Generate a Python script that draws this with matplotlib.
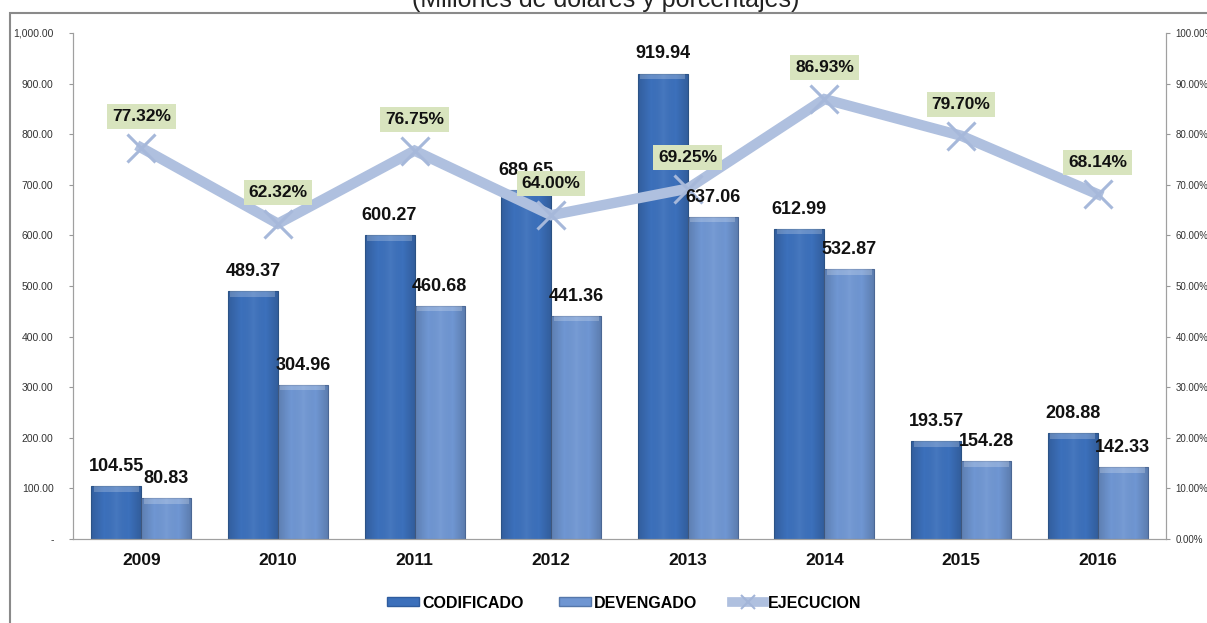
import matplotlib
matplotlib.use("Agg")
import matplotlib.pyplot as plt
import numpy as np
from matplotlib.patches import Rectangle
from matplotlib.lines import Line2D
from matplotlib.colors import LinearSegmentedColormap

years = ["2009", "2010", "2011", "2012", "2013", "2014", "2015", "2016"]
codificado = [104.55, 489.37, 600.27, 689.65, 919.94, 612.99, 193.57, 208.88]
devengado = [80.83, 304.96, 460.68, 441.36, 637.06, 532.87, 154.28, 142.33]
ejecucion = [77.32, 62.32, 76.75, 64.00, 69.25, 86.93, 79.70, 68.14]

left_ticks = [0, 100, 200, 300, 400, 500, 600, 700, 800, 900, 1000]
left_labels = ["-", "100.00", "200.00", "300.00", "400.00", "500.00",
               "600.00", "700.00", "800.00", "900.00", "1,000.00"]
right_ticks = [0, 10, 20, 30, 40, 50, 60, 70, 80, 90, 100]
right_labels = [f"{v:.2f}%" for v in right_ticks]

plt.rcParams["font.family"] = ["Liberation Sans Narrow", "Liberation Sans", "DejaVu Sans"]

fig = plt.figure(figsize=(12.07, 6.23), dpi=100)
W, H = 1207, 623

# outer frame and subtitle
fig.patches.append(Rectangle((10 / W, -0.1), 1.2, 1 - 13 / H + 0.1,
                             transform=fig.transFigure, fill=False,
                             edgecolor="#8a8a8a", linewidth=1.5))
fig.text(606 / W, 1 - 7 / H, "(Millones de dólares y porcentajes)",
         ha="center", va="baseline", fontsize=18, color="#222222",
         family=["Liberation Sans", "DejaVu Sans"])

ax = fig.add_axes([73 / W, 1 - 539 / H, (1166 - 73) / W, (539 - 33) / H])
ax2 = ax.twinx()

x = np.arange(len(years))
bw = 0.366
c1 = "#3C70BB"
c2 = "#6F96D2"
b1 = ax.bar(x - bw / 2, codificado, bw, color=c1, edgecolor="#34629F", linewidth=0.8, zorder=2)
b2 = ax.bar(x + bw / 2, devengado, bw, color=c2, edgecolor="#5B7DB3", linewidth=0.8, zorder=2)

# soft bevel shading across each bar
shade = LinearSegmentedColormap.from_list(
    "shade", [(0, 0, 0, 0.16), (0, 0, 0, 0.0), (1, 1, 1, 0.06), (0, 0, 0, 0.0), (0, 0, 0, 0.18)])
grad = np.linspace(0, 1, 64).reshape(1, -1)
for bars in (b1, b2):
    for r in bars:
        x0, w, h = r.get_x(), r.get_width(), r.get_height()
        im = ax.imshow(grad, cmap=shade, extent=(x0, x0 + w, 0, h), aspect="auto",
                       zorder=2.1, interpolation="bicubic")
        im.set_clip_path(r)
        top = Rectangle((x0 + w * 0.05, h - 11), w * 0.90, 11, facecolor="white",
                        alpha=0.22, edgecolor="none", zorder=2.2)
        ax.add_patch(top)

ax.set_xlim(-0.5, len(years) - 0.5)
ax.set_ylim(0, 1000)
ax.set_yticks(left_ticks)
ax.set_yticklabels(left_labels, fontsize=7.5, color="#333333")
ax.set_xticks(x)
ax.set_xticklabels(years, fontsize=12.5, fontweight="bold", color="#111111")
ax.tick_params(axis="x", length=0, pad=10)
ax.tick_params(axis="y", length=3, color="#999999", pad=11)

ax2.set_ylim(0, 100)
ax2.set_yticks(right_ticks)
ax2.set_yticklabels(right_labels, fontsize=7, color="#333333")
ax2.tick_params(axis="y", length=3, color="#999999", pad=4)

line_color = "#AFC0DF"
ax2.plot(x, ejecucion, color=line_color, linewidth=7.5, solid_joinstyle="miter",
         zorder=4, marker="x", markersize=20, markeredgewidth=2.2,
         markeredgecolor="#A6B8DA")
ax2.set_zorder(ax.get_zorder() + 1)
ax.patch.set_visible(False)

# bar value labels (in ax2 data space so they sit over the line)
for xi, v in zip(x, codificado):
    ax2.text(xi - bw / 2, (v + 22) / 10, f"{v:.2f}", ha="center", va="bottom",
             fontsize=13, fontweight="bold", color="#111111", zorder=6)
for xi, v in zip(x, devengado):
    ax2.text(xi + bw / 2, (v + 22) / 10, f"{v:.2f}", ha="center", va="bottom",
             fontsize=13, fontweight="bold", color="#111111", zorder=6)

for xi, v in zip(x, ejecucion):
    ax2.text(xi, v + 6.2, f"{v:.2f}%", ha="center", va="center",
             fontsize=12.5, fontweight="bold", color="#111111", zorder=7,
             bbox=dict(boxstyle="square,pad=0.28", facecolor="#D8E4BE", edgecolor="none"))

for a in (ax, ax2):
    a.spines["top"].set_visible(False)
    a.spines["left"].set_color("#A0A0A0")
    a.spines["right"].set_color("#A0A0A0")
    a.spines["bottom"].set_color("#A0A0A0")

handles = [
    Rectangle((0, 0), 1, 1, facecolor=c1, edgecolor="#2F5C9E"),
    Rectangle((0, 0), 1, 1, facecolor=c2, edgecolor="#5577AA"),
    Line2D([0], [0], color=line_color, linewidth=7, marker="x", markersize=10,
           markeredgewidth=1.5, markeredgecolor="#A3B5D8"),
]
leg = fig.legend(handles, ["CODIFICADO", "DEVENGADO", "EJECUCION"],
                 loc="center", bbox_to_anchor=(624 / W, 1 - 603 / H), ncol=3,
                 frameon=False, handlelength=2.0, handleheight=0.5,
                 handletextpad=0.2, columnspacing=2.2,
                 prop={"weight": "bold", "size": 11.5})

fig.savefig("out.png", dpi=100)
